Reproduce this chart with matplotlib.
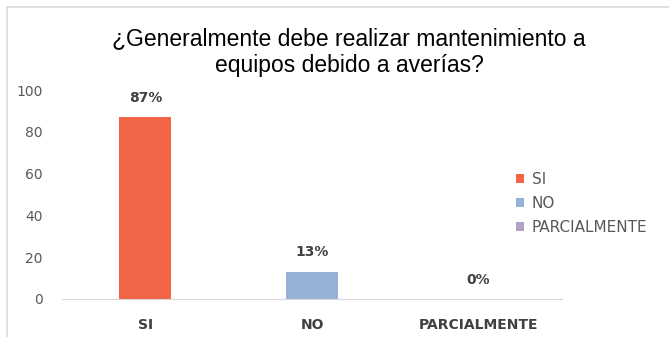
import matplotlib.pyplot as plt
from matplotlib.patches import Rectangle

# survey answers and share of responses (%)
categories = ["SI", "NO", "PARCIALMENTE"]
values = [87, 13, 0]
labels = ["87%", "13%", "0%"]
colors = ["#F26446", "#95B3D7", "#B3A2C7"]

fig = plt.figure(figsize=(6.69, 3.37), dpi=100)
ax = fig.add_axes([62 / 669, 1 - 299 / 337, (562 - 62) / 669, (299 - 90) / 337])

x = range(len(categories))
bars = ax.bar(x, values, width=0.31, color=colors, label=categories)

for xi, v, lab in zip(x, values, labels):
    ax.annotate(lab, (xi, v), xytext=(0, 9), textcoords="offset points",
                ha="center", va="bottom", fontsize=10, fontweight="bold",
                color="#404040", family="DejaVu Sans")

ax.set_xlim(-0.5, 2.5)
ax.set_ylim(0, 100)
ax.set_yticks([0, 20, 40, 60, 80, 100])
ax.set_xticks(list(x))
ax.set_xticklabels(categories, fontsize=10, fontweight="bold", color="#404040",
                   family="DejaVu Sans")
ax.tick_params(axis="x", length=0, pad=14)
ax.tick_params(axis="y", length=0, pad=14, labelsize=10, labelcolor="#595959")
for t in ax.get_yticklabels():
    t.set_family("DejaVu Sans")

for side in ["top", "right", "left"]:
    ax.spines[side].set_visible(False)
ax.spines["bottom"].set_color("#D9D9D9")

fig.suptitle("¿Generalmente debe realizar mantenimiento a\nequipos debido a averías?",
             x=349 / 669, y=0.92, fontsize=16.5, family="Liberation Sans",
             color="#000000", linespacing=1.2)

leg = fig.legend(handles=bars, labels=categories, loc="upper left",
                 bbox_to_anchor=(508 / 669, 1 - 164 / 337), frameon=False,
                 handlelength=0.55, handleheight=0.55, handletextpad=0.5,
                 labelspacing=0.6, borderpad=0,
                 prop={"family": "DejaVu Sans", "size": 11})
for t in leg.get_texts():
    t.set_color("#595959")

# light frame around the chart area
fig.patches.append(Rectangle((7 / 669, -0.1), 1.1, 1 - 7 / 337 + 0.1,
                             transform=fig.transFigure, fill=False,
                             edgecolor="#D9D9D9", linewidth=1.2))

fig.savefig("out.png", dpi=100)
